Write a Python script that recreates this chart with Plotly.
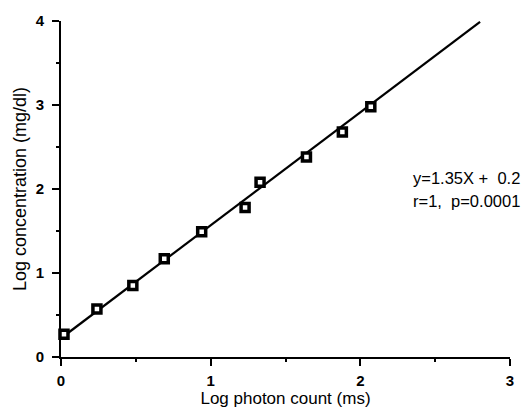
import plotly.graph_objects as go

# Data
log_photon = [0.02, 0.24, 0.48, 0.69, 0.94, 1.23, 1.33, 1.64, 1.88, 2.07]
log_conc = [0.27, 0.57, 0.85, 1.17, 1.49, 1.78, 2.08, 2.38, 2.68, 2.98]

fit_x = [0.02, 2.80]
fit_y = [0.25, 3.99]

x_ticks = [0, 1, 2, 3]
y_ticks = [0, 1, 2, 3, 4]

eq_text = "y=1.35X + \u00a00.2"
stat_text = "r=1,\u00a0 p=0.0001"

FONT = "Liberation Sans, Arial, sans-serif"

fig = go.Figure()
fig.add_trace(go.Scatter(
    x=fit_x, y=fit_y, mode="lines",
    line=dict(color="black", width=2.2),
    showlegend=False, cliponaxis=False,
))
fig.add_trace(go.Scatter(
    x=log_photon, y=log_conc, mode="markers",
    marker=dict(symbol="square", size=8, color="white",
                line=dict(color="black", width=3.5)),
    showlegend=False, cliponaxis=False,
))

axis_common = dict(
    showline=True, linecolor="black", linewidth=2,
    ticks="outside", ticklen=7, tickwidth=2, tickcolor="black",
    showgrid=False, zeroline=False,
    tickfont=dict(family=FONT, size=15, color="black", weight="bold"),
    minor=dict(ticks="outside", ticklen=3, tickwidth=2, tickcolor="black", dtick=0.5),
)

fig.update_xaxes(
    range=[0, 3], tickvals=x_ticks, ticktext=[str(v) for v in x_ticks],
    ticklabelstandoff=2,
    title=dict(text="Log photon count (ms)", font=dict(family=FONT, size=17, color="black"), standoff=8),
    **axis_common,
)
fig.update_yaxes(
    range=[0, 4], tickvals=y_ticks, ticktext=[str(v) for v in y_ticks],
    ticklabelstandoff=5,
    title=dict(text="Log concentration (mg/dl)", font=dict(family=FONT, size=18, color="black"), standoff=4),
    **axis_common,
)

fig.add_annotation(x=2.34, y=2.13, xref="x", yref="y", text=eq_text,
                   showarrow=False, xanchor="left", yanchor="middle",
                   font=dict(family=FONT, size=16.5, color="black"))
fig.add_annotation(x=2.34, y=1.86, xref="x", yref="y", text=stat_text,
                   showarrow=False, xanchor="left", yanchor="middle",
                   font=dict(family=FONT, size=16.5, color="black"))

fig.update_layout(
    width=523, height=408,
    margin=dict(l=61, r=13, t=21, b=51, autoexpand=False),
    paper_bgcolor="white", plot_bgcolor="white",
)

fig.write_html("out.html")
